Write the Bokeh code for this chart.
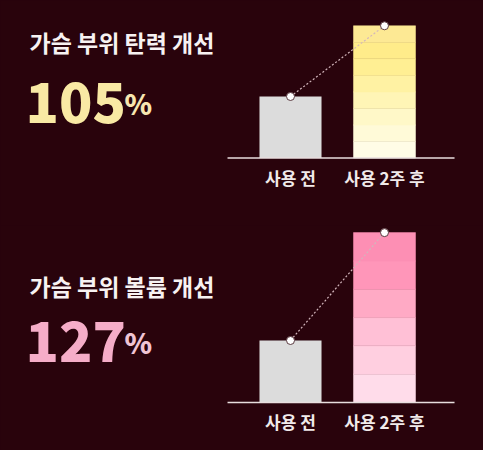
from bokeh.plotting import figure
from bokeh.layouts import column
from bokeh.models import Label, Range1d, ColumnDataSource, GlobalInlineStyleSheet
from bokeh.core.properties import value
from bokeh.embed import file_html
from bokeh.resources import INLINE

# ---- data ----
categories = ["사용 전", "사용 2주 후"]
firmness_values = [100, 215]
volume_values = [100, 274]
titles = ["가슴 부위 탄력 개선", "가슴 부위 볼륨 개선"]
percent_labels = ["105", "127"]

BG = "#29030c"
FONT = "Noto Sans CJK KR"
NUM_FONT = "Noto Sans CJK KR Black"
W, H = 483, 225

yellow_bands = ["#fffce6", "#fffad8", "#fff8c8", "#fff5b6", "#fff2a3", "#ffef93", "#ffec8a", "#fde994"]
pink_bands = ["#ffdcea", "#ffcfe0", "#ffc0d6", "#ffaac5", "#ff96b9", "#fd8fb4"]


def panel(title, pct, vals, bands, num_color, sign_color, base_px, px_per_unit, title_y, num_y):
    unit = 94.0
    c0 = 290.0
    x_start = -c0 / unit
    x_end = x_start + W / unit
    y_start = -base_px / px_per_unit
    y_end = (H - base_px) / px_per_unit
    p = figure(width=W, height=H, x_range=Range1d(x_start, x_end),
               y_range=Range1d(y_start, y_end), output_backend="svg",
               toolbar_location=None, min_border=0,
               background_fill_color=BG, border_fill_color=BG,
               outline_line_color=None)
    p.axis.visible = False
    p.grid.visible = False
    xs = list(range(len(categories)))

    # before bar
    p.vbar(x=[xs[0]], top=[vals[0]], bottom=0, width=0.66,
           fill_color="#dcdcdc", line_color=None)
    # after bar, banded gradient
    n = len(bands)
    after = vals[1]
    src = ColumnDataSource(dict(
        x=[xs[1]] * n,
        bottom=[after * i / n for i in range(n)],
        top=[after * (i + 1) / n for i in range(n)],
        color=bands,
    ))
    p.vbar(x="x", bottom="bottom", top="top", width=0.66, source=src,
           fill_color="color", line_color="color", line_width=0.5)

    # baseline
    p.segment(x0=[xs[0] - 0.67], x1=[xs[-1] + 0.745], y0=[0], y1=[0],
              line_color="#e8dede", line_width=1.5)

    # dotted connector + markers
    p.line(xs, vals, line_dash="2 2", line_color="#d2b6bc", line_width=1.2)
    p.scatter(xs, vals, size=8, fill_color="white", line_color="#5a3a40", line_width=1)

    # category labels
    p.text(x=xs, y=[0] * len(xs), text=categories, text_align="center",
           text_baseline="middle", y_offset=19, text_font=value(FONT),
           text_font_size="17px", text_font_style="bold", text_color="#f0eaea")

    # left texts
    p.add_layout(Label(x=29, y=title_y, x_units="screen", y_units="screen", text=title,
                       text_font=FONT, text_font_size="23px", text_font_style="bold",
                       text_color="#f7f2f2", text_baseline="middle"))
    p.add_layout(Label(x=25, y=num_y, x_units="screen", y_units="screen", text=pct,
                       text_font=NUM_FONT, text_font_size="55px", text_font_style="bold",
                       text_color=num_color, text_baseline="alphabetic"))
    p.add_layout(Label(x=124, y=num_y, x_units="screen", y_units="screen", text="%",
                       text_font=NUM_FONT, text_font_size="28px", text_font_style="bold",
                       text_color=sign_color, text_baseline="alphabetic"))
    return p


p1 = panel(titles[0], percent_labels[0], firmness_values, yellow_bands,
           "#f9e9a4", "#f7e6b0", 67.5, 0.615, 184, 123)
p2 = panel(titles[1], percent_labels[1], volume_values, pink_bands,
           "#f5adc8", "#f0c4d4", 48, 0.62, 165, 109)

layout = column(p1, p2, spacing=0,
                stylesheets=[GlobalInlineStyleSheet(css="html, body { background-color: #29030c; }")])

open("out.html", "w").write(file_html(layout, INLINE))
